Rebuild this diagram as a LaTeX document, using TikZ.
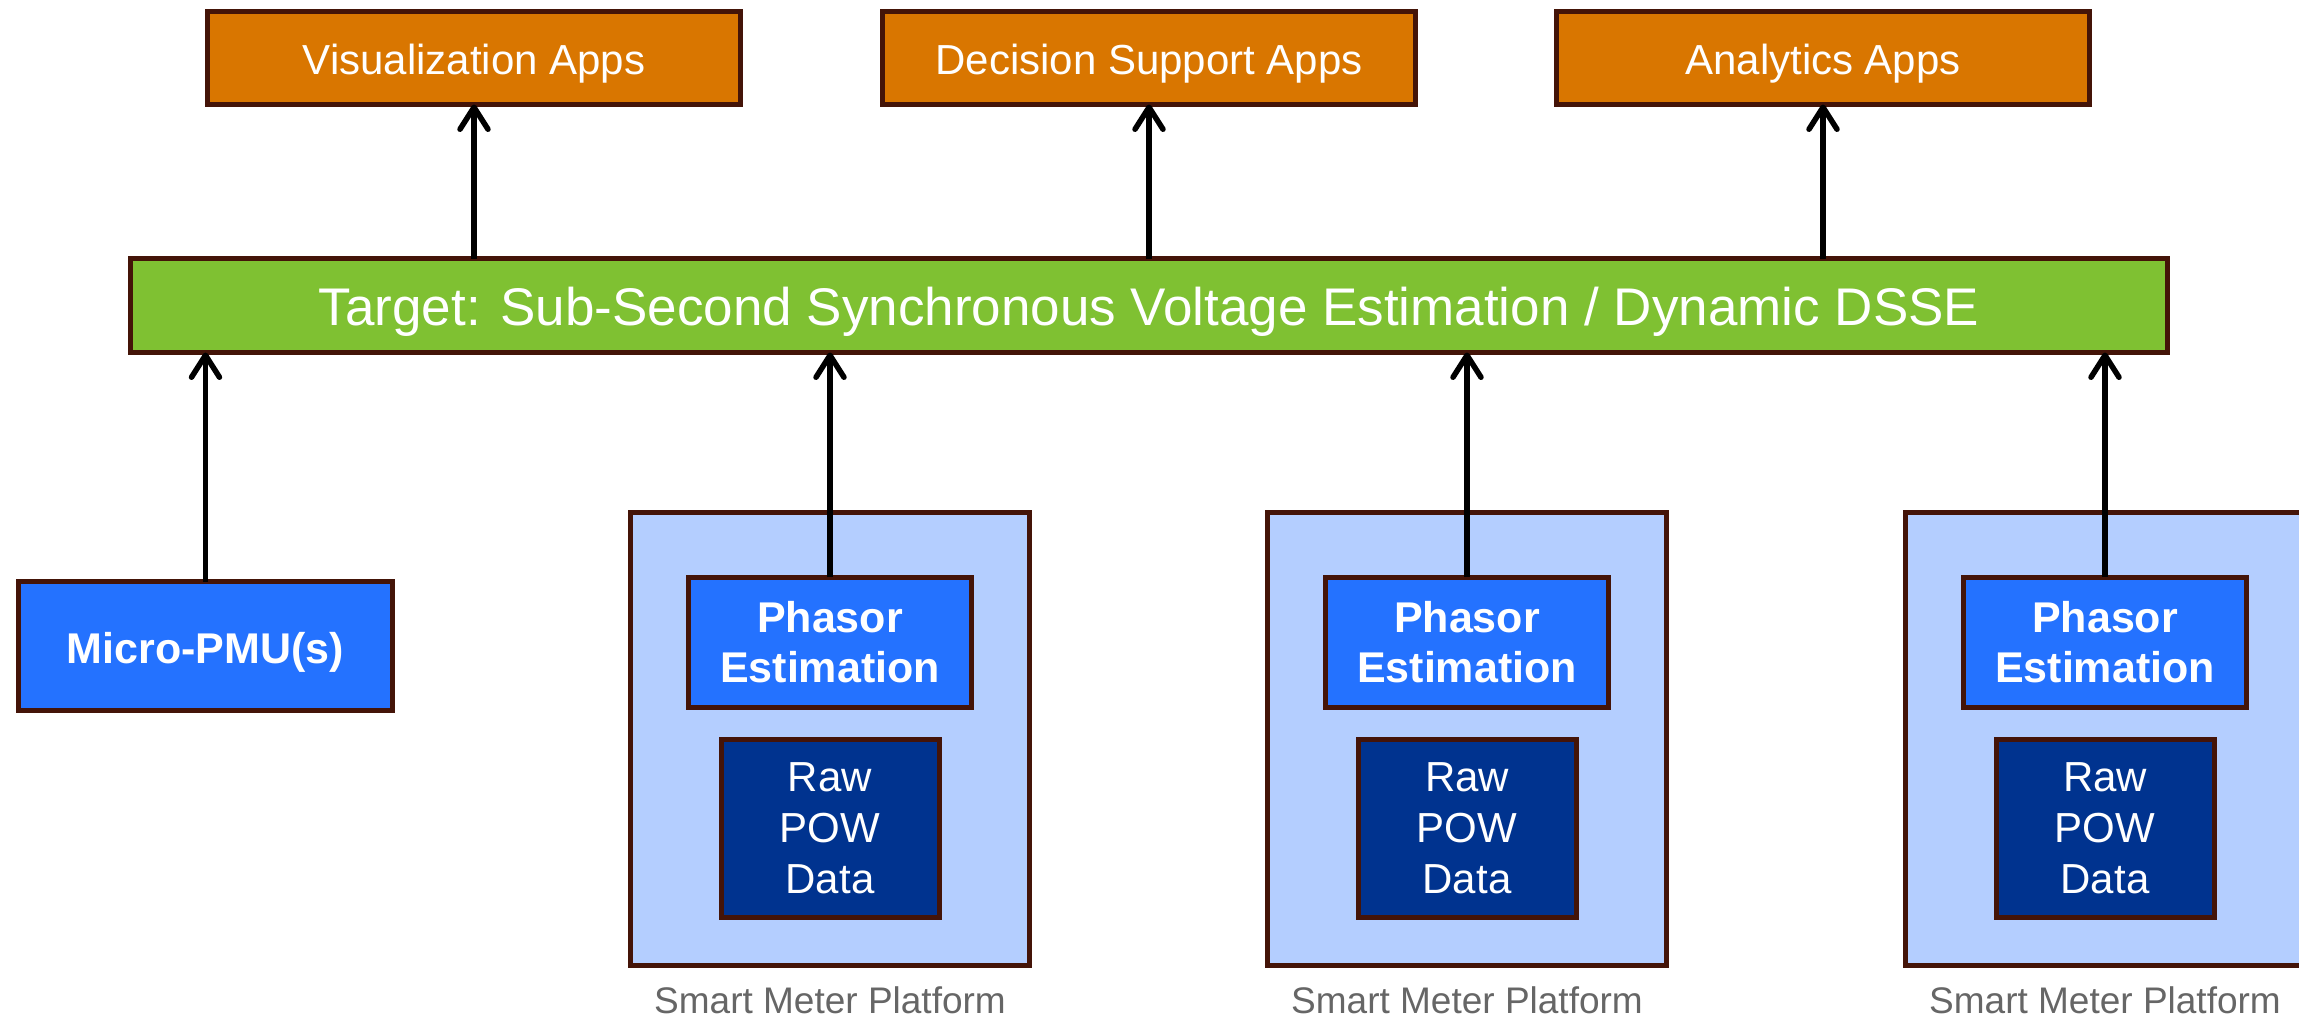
\documentclass[tikz,border=0pt]{standalone}
\usepackage{fontspec}
\setmainfont{Liberation Sans}
\usetikzlibrary{arrows.meta}

\definecolor{edgebrown}{RGB}{68,20,8}
\definecolor{apporange}{RGB}{217,118,0}
\definecolor{targetgreen}{RGB}{127,193,50}
\definecolor{unitblue}{RGB}{36,114,255}
\definecolor{platformblue}{RGB}{180,206,255}
\definecolor{rawblue}{RGB}{0,51,143}
\definecolor{captiongray}{RGB}{102,102,102}

\tikzset{
  box/.style={draw=edgebrown, line width=5pt, inner sep=0pt, outer sep=0pt,
    text=white, align=center},
  appbox/.style={box, fill=apporange, minimum width=533pt, minimum height=93pt,
    text height=32pt, text depth=0pt, font=\fontsize{42}{50}\selectfont},
  targetbox/.style={box, fill=targetgreen, minimum width=2037pt, minimum height=94pt,
    text height=39pt, text depth=0pt, font=\fontsize{53}{60}\selectfont},
  pmubox/.style={box, fill=unitblue, minimum width=374pt, minimum height=129pt,
    text height=34pt, text depth=0pt, font=\fontsize{43}{50}\selectfont\bfseries},
  platformbox/.style={box, fill=platformblue, minimum width=399pt, minimum height=453pt},
  phasorbox/.style={box, fill=unitblue, minimum width=283pt, minimum height=130pt,
    font=\fontsize{43}{50}\selectfont\bfseries},
  rawbox/.style={box, fill=rawblue, minimum width=218pt, minimum height=178pt,
    font=\fontsize{42}{51}\selectfont},
  caption/.style={text=captiongray, inner sep=0pt, anchor=base,
    font=\fontsize{37}{44}\selectfont},
  conn/.style={line width=5.5pt, draw=black,
    -{Straight Barb[length=22pt,width=28pt,round]}}
}

\begin{document}
\begin{tikzpicture}[x=1pt,y=-1pt]
  \useasboundingbox (0,0) rectangle (2299,1017);

  % application layer
  \node[appbox] (vis) at (474,58) {Visualization Apps};
  \node[appbox] (dec) at (1149,58) {Decision Support Apps};
  \node[appbox] (ana) at (1823,58) {Analytics Apps};

  % estimation target
  \node[targetbox] (target) at (1149,305.5)
    {Target: Sub-Second Synchronous Voltage Estimation / Dynamic DSSE};

  % measurement sources
  \node[pmubox] (pmu) at (205.5,646) {Micro-PMU(s)};

  \foreach \i/\cx in {1/830,2/1467,3/2105}{
    \node[platformbox] (plat\i) at (\cx,739) {};
    \node[phasorbox] (phasor\i) at (\cx,642) {Phasor\\Estimation};
    \node[rawbox] (raw\i) at (\cx,828.5) {Raw\\POW\\Data};
    \node[caption] (cap\i) at (\cx,1013) {Smart Meter Platform};
  }

  % data flow
  \draw[conn] (target.north -| vis.south) -- (vis.south);
  \draw[conn] (target.north -| dec.south) -- (dec.south);
  \draw[conn] (target.north -| ana.south) -- (ana.south);

  \draw[conn] (pmu.north) -- (pmu.north |- target.south);
  \foreach \i in {1,2,3}{
    \draw[conn] (phasor\i.north) -- (phasor\i.north |- target.south);
  }
\end{tikzpicture}
\end{document}
